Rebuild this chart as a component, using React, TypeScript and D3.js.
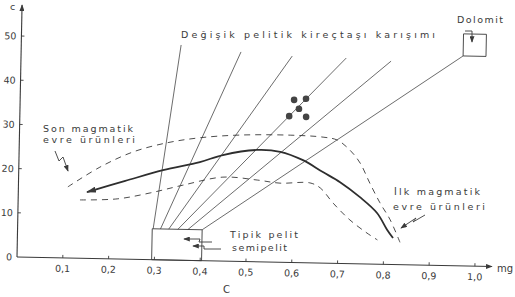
import * as d3 from "d3";

const xTicks = [0.1, 0.2, 0.3, 0.4, 0.5, 0.6, 0.7, 0.8, 0.9, 1.0];
const xTickLabels = ["0,1", "0,2", "0,3", "0,4", "0,5", "0,6", "0,7", "0,8", "0,9", "1,0"];
const yTicks = [0, 10, 20, 30, 40, 50];
const yTickLabels = ["0", "10", "20", "30", "40", "50"];

// mg, c
const mainCurve: [number, number][] = [
  [0.150, 15.0], [0.233, 17.7], [0.315, 20.3], [0.395, 22.3], [0.445, 24.0],
  [0.519, 25.3], [0.570, 25.0], [0.620, 23.2], [0.664, 20.6], [0.702, 18.4],
  [0.746, 15.1], [0.784, 11.6], [0.807, 7.8], [0.820, 6.0],
];
const upperBound: [number, number][] = [
  [0.108, 16.1], [0.177, 20.7], [0.249, 24.3], [0.322, 26.5], [0.394, 27.8],
  [0.482, 28.6], [0.591, 28.8], [0.663, 28.5], [0.694, 27.9], [0.722, 25.7],
  [0.745, 22.8], [0.767, 18.3], [0.790, 13.9], [0.813, 10.1], [0.836, 4.9],
];
const lowerBound: [number, number][] = [
  [0.135, 13.2], [0.216, 13.6], [0.288, 15.1], [0.359, 17.0], [0.446, 19.0],
  [0.521, 18.5], [0.571, 17.9], [0.636, 18.1], [0.659, 17.0], [0.688, 13.6],
  [0.725, 9.9], [0.763, 7.0], [0.786, 5.5],
];

// karışım doğruları: pelit kutusundan (alt uç) yukarıya
const mixStartMg = [0.296, 0.312, 0.330, 0.350, 0.372];
const mixEnd: [number, number][] = [
  [0.349, 48.7], [0.480, 47.4], [0.592, 46.7], [0.710, 46.5], [0.808, 46.0],
];
const boxTopC = 7.0;
const dolomiteLine: [number, number][] = [[0.403, 7.0], [0.965, 47.5]];

const samples: [number, number][] = [
  [0.598, 36.8], [0.624, 37.1], [0.609, 34.8], [0.588, 33.1], [0.625, 33.0],
];

const pelitBox = { mg: [0.294, 0.403], c: [0, 7.0] };
const dolomitBox = { mg: [0.965, 1.015], c: [47.5, 52.5] };

const ink = "#3a3a3a";
const font = "'DejaVu Sans', sans-serif";

export default function App() {
  const x = d3.scaleLinear().domain([0, 1]).range([17, 475]);
  const y = d3.scaleLinear().domain([0, 50]).range([257, 36]);

  const curve = d3
    .line<[number, number]>()
    .x((d) => x(d[0]))
    .y((d) => y(d[1]))
    .curve(d3.curveCatmullRom.alpha(0.5));

  const txt = {
    fontFamily: font,
    fontSize: 9.5,
    fill: ink,
  } as const;

  return (
    <svg
      width={515}
      height={297}
      style={{ position: "absolute", left: 0, top: 0, background: "#fff" }}
    >
      <defs>
        <marker id="head" viewBox="0 0 10 6" refX="9" refY="3" markerWidth="10" markerHeight="6"
          markerUnits="userSpaceOnUse" orient="auto-start-reverse">
          <path d="M0,0 L10,3 L0,6 Z" fill={ink} />
        </marker>
        <marker id="small" viewBox="0 0 8 6" refX="7" refY="3" markerWidth="7" markerHeight="5"
          markerUnits="userSpaceOnUse" orient="auto-start-reverse">
          <path d="M0,0 L8,3 L0,6 Z" fill={ink} />
        </marker>
      </defs>

      {/* taranmış şekil hafifçe dönük */}
      <g transform="rotate(1.15, 17, 257)" stroke={ink} fill="none">
        {/* eksenler */}
        <line x1={x(0)} y1={y(0)} x2={x(0)} y2={y(57)} strokeWidth={1.1} markerEnd="url(#small)" />
        <line x1={x(0)} y1={y(0)} x2={x(1.037)} y2={y(0)} strokeWidth={1.1} markerEnd="url(#small)" />
        {xTicks.map((t) => (
          <line key={t} x1={x(t)} x2={x(t)} y1={y(0)} y2={y(0) - 3} strokeWidth={0.9} />
        ))}
        {yTicks.slice(1).map((t) => (
          <line key={t} x1={x(0)} x2={x(0) + 3} y1={y(t)} y2={y(t)} strokeWidth={0.9} />
        ))}
        {xTicks.map((t, i) => (
          <text key={t} x={x(t)} y={y(0) + 14} textAnchor="middle" stroke="none" {...txt}>
            {xTickLabels[i]}
          </text>
        ))}
        {yTicks.map((t, i) => (
          <text key={t} x={x(0) - 5} y={y(t) + 3.5} textAnchor="end" stroke="none" {...txt}>
            {yTickLabels[i]}
          </text>
        ))}

        {/* karışım doğruları */}
        {mixStartMg.map((m, i) => (
          <line key={m} x1={x(m)} y1={y(boxTopC)} x2={x(mixEnd[i][0])} y2={y(mixEnd[i][1])}
            strokeWidth={0.8} stroke="#484848" />
        ))}
        <line x1={x(dolomiteLine[0][0])} y1={y(dolomiteLine[0][1])}
          x2={x(dolomiteLine[1][0])} y2={y(dolomiteLine[1][1])} strokeWidth={0.8} stroke="#484848" />

        {/* kutular */}
        <rect x={x(pelitBox.mg[0])} y={y(pelitBox.c[1])}
          width={x(pelitBox.mg[1]) - x(pelitBox.mg[0])} height={y(pelitBox.c[0]) - y(pelitBox.c[1])}
          strokeWidth={0.9} />
        <rect x={x(dolomitBox.mg[0])} y={y(dolomitBox.c[1])}
          width={x(dolomitBox.mg[1]) - x(dolomitBox.mg[0])} height={y(dolomitBox.c[0]) - y(dolomitBox.c[1])}
          strokeWidth={0.9} />

        {/* sınır eğrileri */}
        <path d={curve(upperBound) ?? ""} strokeWidth={0.9} strokeDasharray="6 5" />
        <path d={curve(lowerBound) ?? ""} strokeWidth={0.9} strokeDasharray="6 5" />
        <path d={curve(mainCurve) ?? ""} strokeWidth={1.8} stroke="#2e2e2e" markerStart="url(#head)" />

        {samples.map((d, i) => (
          <circle key={i} cx={x(d[0])} cy={y(d[1])} r={3.3} fill="#444" stroke="none" />
        ))}
      </g>

      {/* etiketler */}
      <g stroke="none">
        <text x={10} y={10} {...txt}>c</text>
        <text x={497} y={272} {...txt} fontSize={10}>mg</text>
        <text x={223} y={293} {...txt} fontSize={10}>C</text>
        <text x={181} y={38} {...txt} textLength={254} lengthAdjust="spacing">
          Değişik pelitik kireçtaşı karışımı
        </text>
        <text x={457} y={23} {...txt} textLength={46} lengthAdjust="spacing">Dolomit</text>
        <text x={43} y={132} {...txt} textLength={90} lengthAdjust="spacing">Son magmatik</text>
        <text x={43} y={143} {...txt} textLength={92} lengthAdjust="spacing">evre ürünleri</text>
        <text x={394} y={195} {...txt} textLength={86} lengthAdjust="spacing">İlk magmatik</text>
        <text x={393} y={210} {...txt} textLength={92} lengthAdjust="spacing">evre ürünleri</text>
        <text x={230} y={238} {...txt} textLength={68} lengthAdjust="spacing">Tipik pelit</text>
        <text x={232} y={251} {...txt} textLength={55} lengthAdjust="spacing">semipelit</text>
      </g>

      {/* oklar */}
      <g stroke={ink} fill="none" strokeWidth={0.9}>
        <path d="M55,151 L59,161 L63,157 L68,171" markerEnd="url(#small)" />
        <path d="M425,215 L413,222 L416,218 L401,228" markerEnd="url(#small)" />
        <path d="M212,242 L199,242 L200,239 L184,239" markerEnd="url(#small)" />
        <path d="M221,249 L204,249 L204,246 L193,246" markerEnd="url(#small)" />
        <path d="M465,31 L472,31 L472,42" markerEnd="url(#small)" />
      </g>
    </svg>
  );
}
